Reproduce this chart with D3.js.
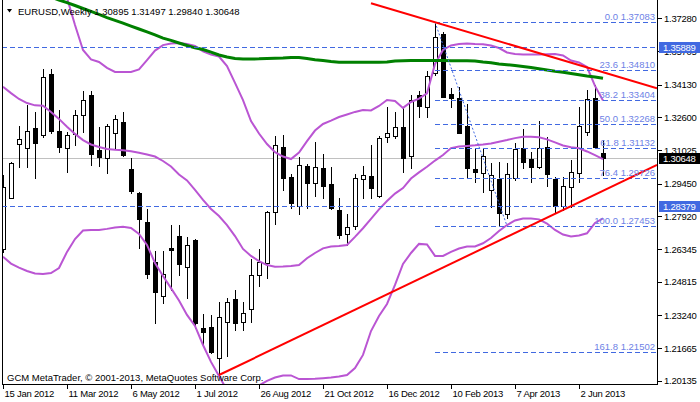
<!DOCTYPE html>
<html><head><meta charset="utf-8">
<script src="https://cdn.jsdelivr.net/npm/d3@7"></script>
<style>
html,body{margin:0;padding:0;background:#fff;}
svg{display:block;font-family:"Liberation Sans",Arial,sans-serif;}
</style></head><body>
<svg id="c" width="700" height="402"></svg>
<script>
// ---- data (weekly EURUSD, first bar = week of 15 Jan 2012) ----
const firstWeek = "2012-01-15";
const opens = [1.2634,1.2878,1.3131,1.3112,1.3208,1.3175,1.3463,1.3192,1.3112,1.3178,1.3268,1.3364,1.3104,1.3065,1.3183,1.3235,1.3013,1.2902,1.2762,1.2573,1.2412,1.2642,1.2697,1.2549,1.2678,1.2261,1.2266,1.2119,1.2292,1.2398,1.2292,1.2351,1.2513,1.2568,1.2809,1.3117,1.2975,1.2841,1.3028,1.2947,1.3017,1.2942,1.2820,1.2708,1.2746,1.2965,1.2981,1.2886,1.3167,1.3172,1.3211,1.3076,1.3364,1.3306,1.3467,1.3651,1.3367,1.3348,1.3217,1.3014,1.2994,1.2915,1.2965,1.2801,1.2970,1.3112,1.3061,1.3025,1.3120,1.2967,1.2841,1.2930,1.2994,1.3190,1.3348,1.30895];
const highs = [1.2986,1.3049,1.3217,1.3317,1.3282,1.3485,1.3485,1.3293,1.3188,1.3293,1.3384,1.3384,1.3214,1.3225,1.3269,1.3282,1.3065,1.2907,1.2825,1.2626,1.2626,1.2749,1.2749,1.2693,1.2682,1.2328,1.2324,1.2387,1.2403,1.2442,1.2384,1.2587,1.2634,1.2815,1.3172,1.3175,1.2989,1.3069,1.3040,1.3142,1.3084,1.3022,1.2878,1.2801,1.2990,1.3028,1.3128,1.3172,1.3306,1.3282,1.3301,1.3364,1.3383,1.3477,1.37083,1.3663,1.3397,1.3400,1.3320,1.3115,1.3115,1.3041,1.3046,1.3041,1.3136,1.3202,1.3096,1.3241,1.3167,1.2975,1.2978,1.3057,1.3309,1.3388,1.3411,1.31497];
const lows = [1.2623,1.2876,1.3025,1.3025,1.2973,1.3167,1.3186,1.3096,1.3001,1.3128,1.3190,1.3033,1.3030,1.2994,1.3112,1.3077,1.2902,1.2639,1.2497,1.2285,1.2379,1.2442,1.2513,1.2406,1.2261,1.2177,1.2143,1.2032,1.2130,1.2253,1.2253,1.2292,1.2462,1.2500,1.2753,1.2915,1.2828,1.2801,1.2828,1.2886,1.2878,1.2825,1.2689,1.2655,1.2730,1.2878,1.2876,1.2883,1.3143,1.3162,1.2999,1.3017,1.3259,1.3261,1.3459,1.3353,1.3306,1.3186,1.2970,1.2954,1.2907,1.2836,1.27453,1.2781,1.2962,1.3017,1.2954,1.3020,1.2935,1.2807,1.2820,1.2836,1.2954,1.3175,1.3115,1.29840];
const closes = [1.2928,1.3041,1.3155,1.3192,1.3138,1.3448,1.3194,1.3120,1.3175,1.3268,1.3339,1.3086,1.3072,1.3217,1.3249,1.3080,1.2912,1.2776,1.2516,1.2431,1.2516,1.2633,1.2565,1.2653,1.2285,1.2245,1.2150,1.2316,1.2384,1.2285,1.2332,1.2513,1.2576,1.2812,1.3126,1.2973,1.2855,1.3032,1.2949,1.3022,1.2935,1.2831,1.2702,1.2738,1.2970,1.2984,1.2923,1.3159,1.3183,1.3214,1.3065,1.3340,1.3313,1.3455,1.3637,1.3356,1.3352,1.3186,1.3017,1.3001,1.3076,1.2986,1.2807,1.2989,1.3107,1.3049,1.3025,1.3112,1.2989,1.2839,1.2934,1.2999,1.3217,1.3344,1.3120,1.30648];

// moving average (green), null where not on chart
const maValues = [null,null,null,null,null,null,1.3827,1.3813,1.3801,1.3787,1.3773,1.3759,1.3745,1.3730,1.3717,1.3704,1.3690,1.3676,1.3662,1.3648,1.3633,1.3622,1.3610,1.3598,1.3587,1.3579,1.3567,1.3553,1.3544,1.3537,1.3534,1.3534,1.3535,1.3537,1.3538,1.3539,1.3541,1.3541,1.3537,1.3531,1.3527,1.3522,1.3519,1.3519,1.3519,1.3519,1.3519,1.3519,1.3520,1.3525,1.3526,1.3527,1.3527,1.3527,1.3527,1.3527,1.3526,1.3526,1.3526,1.3525,1.3520,1.3516,1.3511,1.3507,1.3503,1.3499,1.3494,1.3488,1.3482,1.3476,1.3471,1.3466,1.3460,1.3454,1.3449,1.3443];
// Bollinger bands
const bbUpper = [null,null,null,null,null,null,1.4097,1.3955,1.3823,1.3695,1.3577,1.3532,1.3520,1.3492,1.3473,1.3473,1.3473,1.3485,1.3529,1.3574,1.3600,1.3607,1.3610,1.3605,1.3596,1.3570,1.3555,1.3546,1.3501,1.3421,1.3340,1.3241,1.3182,1.3132,1.3094,1.3073,1.3061,1.3092,1.3146,1.3196,1.3227,1.3243,1.3260,1.3272,1.3284,1.3293,1.3291,1.3312,1.3340,1.3336,1.3303,1.3331,1.3347,1.3372,1.3511,1.3577,1.3598,1.3605,1.3607,1.3605,1.3604,1.3598,1.3586,1.3565,1.3558,1.3555,1.3555,1.3555,1.3557,1.3558,1.3551,1.3527,1.3518,1.3496,1.3407,1.3338];
const bbMiddle = [1.3403,1.3373,1.3345,1.3326,1.3315,1.3313,1.3284,1.3251,1.3214,1.3180,1.3151,1.3130,1.3118,1.3109,1.3105,1.3103,1.3098,1.3091,1.3083,1.3073,1.3052,1.3026,1.2988,1.2960,1.2915,1.2868,1.2825,1.2792,1.2749,1.2697,1.2636,1.2603,1.2579,1.2560,1.2552,1.2553,1.2555,1.2560,1.2592,1.2617,1.2639,1.2648,1.2650,1.2655,1.2693,1.2734,1.2778,1.2823,1.2863,1.2898,1.2924,1.2969,1.2998,1.3025,1.3054,1.3080,1.3113,1.3120,1.3123,1.3126,1.3130,1.3135,1.3143,1.3151,1.3160,1.3166,1.3167,1.3164,1.3154,1.3140,1.3125,1.3117,1.3112,1.3097,1.3080,1.3061];
const bbLower = [1.2599,1.2567,1.2548,1.2532,1.2520,1.2518,1.2522,1.2546,1.2622,1.2683,1.2723,1.2726,1.2726,1.2731,1.2738,1.2741,1.2735,1.2707,1.2655,1.2570,1.2508,1.2451,1.2392,1.2324,1.2272,1.2182,1.2102,1.2035,1.1969,1.1946,1.1946,1.1960,1.1991,1.2012,1.2028,1.2038,1.2038,1.2021,1.2021,1.2022,1.2025,1.2028,1.2033,1.2040,1.2073,1.2135,1.2248,1.2319,1.2376,1.2466,1.2565,1.2617,1.2660,1.2657,1.2603,1.2603,1.2622,1.2638,1.2648,1.2648,1.2663,1.2688,1.2721,1.2749,1.2771,1.2780,1.2780,1.2776,1.2756,1.2726,1.2704,1.2695,1.2700,1.2710,1.2759,1.2781];

const yTicks = [1.37280,1.35705,1.34130,1.32600,1.31025,1.29450,1.27920,1.26345,1.24815,1.23240,1.21665,1.20135];
const xTickIndex = [0,8,16,24,32,40,48,56,64,72];
const xTickLabels = ["15 Jan 2012","11 Mar 2012","6 May 2012","1 Jul 2012","26 Aug 2012","21 Oct 2012","16 Dec 2012","10 Feb 2013","7 Apr 2013","2 Jun 2013"];

const fibLevels = ["0.0","23.6","38.2","50.0","61.8","76.4","100.0","161.8"];
const fibPrices = [1.37083,1.34810,1.33404,1.32268,1.31132,1.29726,1.27453,1.21502];
const fibAnchors = [[54,1.37083],[63,1.27453]];
const hLines = [1.35889,1.28379];
const bidPrice = 1.30648;
const trendUpper = [[46,1.3798],[75,1.3472]];
const trendLower = [[27,1.2040],[75,1.2911]];
const header = "EURUSD,Weekly  1.30895 1.31497 1.29840 1.30648";
const footer = "GCM MetaTrader, \u00a9 2001-2013, MetaQuotes Software Corp.";

// ---- layout ----
const L = 2, R = 657, B = 384;
const svg = d3.select("#c");
const x = d3.scaleLinear().domain([0,75]).range([3,603]);
const y = d3.scaleLinear().domain([1.20135,1.37280]).range([380.63,18]);
const N = opens.length;
const idx = d3.range(N);

svg.append("defs").append("clipPath").attr("id","pc")
  .append("rect").attr("x",L+1).attr("y",0).attr("width",R-L-1).attr("height",B);

const blue = "#4169E1";
const plot = svg.append("g").attr("clip-path","url(#pc)");

// header
svg.append("path").attr("d","M7,9 L12,9 L9.5,12.5 Z").attr("fill","#000");
svg.append("text").attr("x",18).attr("y",15).attr("font-size","9.5px").attr("fill","#000").text(header);
svg.append("text").attr("x",7).attr("y",381).attr("font-size","9.5px").attr("fill","#000").text(footer);

// bid line
plot.append("line").attr("x1",L).attr("x2",R).attr("y1",Math.round(y(bidPrice))+0.5).attr("y2",Math.round(y(bidPrice))+0.5)
  .attr("stroke","#C0C0C0").attr("stroke-width",1);

// candles
const cg = plot.append("g").attr("shape-rendering","crispEdges");
idx.forEach(i=>{
  const xc = Math.round(x(i));
  const o=opens[i], c=closes[i];
  cg.append("line").attr("x1",xc+0.5).attr("x2",xc+0.5)
    .attr("y1",Math.round(y(highs[i]))).attr("y2",Math.round(y(lows[i]))+1)
    .attr("stroke","#000").attr("stroke-width",1);
  const top = Math.round(y(Math.max(o,c))), bot = Math.round(y(Math.min(o,c)));
  if (c >= o) {
    cg.append("rect").attr("x",xc-1.5).attr("y",top+0.5).attr("width",4).attr("height",Math.max(bot-top,1))
      .attr("fill","#fff").attr("stroke","#000").attr("stroke-width",1);
  } else {
    cg.append("rect").attr("x",xc-2).attr("y",top).attr("width",5).attr("height",Math.max(bot-top+1,2))
      .attr("fill","#000");
  }
});

// indicators
const mkLine = arr => d3.line().defined(i=>arr[i]!=null).x(i=>x(i)).y(i=>y(arr[i]))(idx);
const bandColor = "#BA55D3";
[bbUpper,bbMiddle,bbLower].forEach(arr=>{
  plot.append("path").attr("d",mkLine(arr)).attr("fill","none").attr("stroke",bandColor).attr("stroke-width",2);
});
plot.append("path").attr("d",mkLine(maValues)).attr("fill","none").attr("stroke","#008000").attr("stroke-width",3);

// horizontal dashed lines
const dash = "5,3";
hLines.forEach(p=>{
  const yy = Math.round(y(p))+0.5;
  plot.append("line").attr("x1",L).attr("x2",R).attr("y1",yy).attr("y2",yy)
    .attr("stroke",blue).attr("stroke-width",1).attr("stroke-dasharray",dash);
});

// fibonacci
const fx0 = Math.round(x(fibAnchors[0][0]));
fibPrices.forEach((p,i)=>{
  const yy = Math.round(y(p))+0.5;
  plot.append("line").attr("x1",fx0).attr("x2",R).attr("y1",yy).attr("y2",yy)
    .attr("stroke",blue).attr("stroke-width",1).attr("stroke-dasharray",dash);
  svg.append("text").attr("x",655).attr("y",yy-2.5).attr("text-anchor","end")
    .attr("font-size","9.5px").attr("fill","#6E82E6").text(fibLevels[i]+" "+p.toFixed(5));
});
plot.append("line")
  .attr("x1",x(fibAnchors[0][0])).attr("y1",y(fibAnchors[0][1]))
  .attr("x2",x(fibAnchors[1][0])).attr("y2",y(fibAnchors[1][1]))
  .attr("stroke",blue).attr("stroke-width",1).attr("stroke-dasharray","2,2");

// trend lines (rays to the right)
function ray(a){
  const x1=x(a[0][0]), y1=y(a[0][1]), x2=x(a[1][0]), y2=y(a[1][1]);
  const s=(y2-y1)/(x2-x1);
  plot.append("line").attr("x1",x1).attr("y1",y1).attr("x2",R).attr("y2",y1+s*(R-x1))
    .attr("stroke","#FF0000").attr("stroke-width",2);
}
ray(trendUpper); ray(trendLower);

// frame
const fr = svg.append("g").attr("shape-rendering","crispEdges").attr("stroke","#000");
fr.append("line").attr("x1",L+0.5).attr("x2",L+0.5).attr("y1",0).attr("y2",B+1);
fr.append("line").attr("x1",L).attr("x2",R+1).attr("y1",B+0.5).attr("y2",B+0.5);
fr.append("line").attr("x1",R+0.5).attr("x2",R+0.5).attr("y1",0).attr("y2",B+1);

// axes
const ya = svg.append("g").attr("transform",`translate(${R+1},0)`)
  .call(d3.axisRight(y).tickValues(yTicks).tickSize(4).tickPadding(2).tickFormat(d=>d.toFixed(5)));
ya.select(".domain").remove();
ya.selectAll("text").attr("font-size","9.5px").attr("font-family","Liberation Sans, Arial, sans-serif").attr("letter-spacing","-0.25px").attr("fill","#000");
ya.selectAll("line").attr("stroke","#000").attr("shape-rendering","crispEdges");

const xa = svg.append("g").attr("transform",`translate(0,${B})`)
  .call(d3.axisBottom(x).tickValues(xTickIndex).tickSize(5).tickFormat((d,i)=>xTickLabels[i]));
xa.select(".domain").remove();
xa.selectAll("text").attr("text-anchor","start").attr("x",1).attr("y",13).attr("dy",null)
  .attr("font-size","9.5px").attr("font-family","Liberation Sans, Arial, sans-serif").attr("letter-spacing","-0.25px").attr("fill","#000");
xa.selectAll("line").attr("stroke","#000").attr("shape-rendering","crispEdges");

// price tags on axis
function tag(p,bg){
  const yy = Math.round(y(p));
  svg.append("rect").attr("x",R+2).attr("y",yy-5).attr("width",42).attr("height",11).attr("fill",bg);
  svg.append("text").attr("x",R+6).attr("y",yy+3.5).attr("font-size","9.5px").attr("letter-spacing","-0.25px")
    .attr("fill","#fff").text(p.toFixed(5));
}
hLines.forEach(p=>tag(p,blue));
tag(bidPrice,"#000");
</script>
</body></html>
